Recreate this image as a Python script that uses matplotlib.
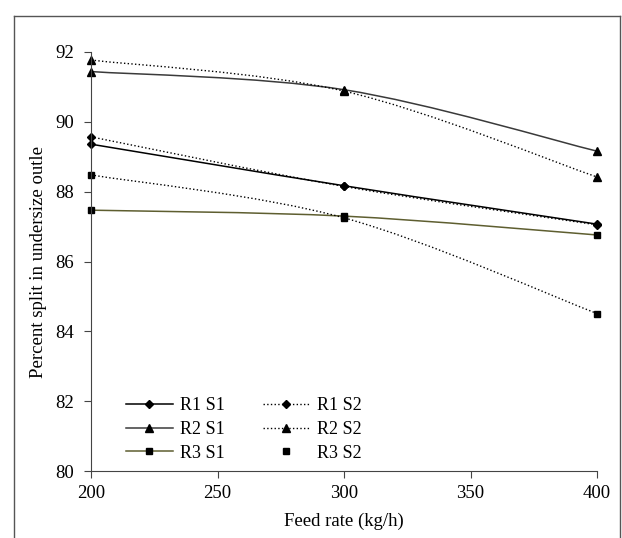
import numpy as np
import matplotlib.pyplot as plt
from matplotlib.path import Path
from matplotlib.patches import PathPatch
from matplotlib.lines import Line2D

plt.rcParams['font.family'] = ['Liberation Serif', 'DejaVu Serif']

feed = [200, 300, 400]
r1_s1 = [89.36, 88.17, 87.07]
r1_s2 = [89.57, 88.15, 87.05]
r2_s1 = [91.44, 90.92, 89.16]
r2_s2 = [91.77, 90.88, 88.42]
r3_s1 = [87.47, 87.30, 86.76]
r3_s2 = [88.48, 87.25, 84.51]
labels = ['R1 S1', 'R2 S1', 'R3 S1', 'R1 S2', 'R2 S2', 'R3 S2']


def smooth_path(x, y):
    # excel style smoothed line: cubic bezier segments
    pts = np.column_stack([x, y]).astype(float)
    n = len(pts)
    verts = [pts[0]]
    codes = [Path.MOVETO]
    for i in range(n - 1):
        p0 = pts[max(i - 1, 0)]
        p1 = pts[i]
        p2 = pts[i + 1]
        p3 = pts[min(i + 2, n - 1)]
        c1 = p1 + (p2 - p0) / 6.0
        c2 = p2 - (p3 - p1) / 6.0
        verts += [c1, c2, p2]
        codes += [Path.CURVE4] * 3
    return Path(verts, codes)


fig = plt.figure(figsize=(6.22, 5.38), dpi=100)
ax = fig.add_axes([91 / 622, 1 - 471 / 538, 506 / 622, 419 / 538])

# outer frame of the picture
fig.add_artist(Line2D([14 / 622, 14 / 622], [0, 1 - 16 / 538], transform=fig.transFigure, color='#555555', lw=1))
fig.add_artist(Line2D([620 / 622, 620 / 622], [0, 1 - 16 / 538], transform=fig.transFigure, color='#555555', lw=1))
fig.add_artist(Line2D([14 / 622, 620 / 622], [1 - 16 / 538, 1 - 16 / 538], transform=fig.transFigure, color='#555555', lw=1))

series = [
    (r1_s1, '-', 'D', 'black'),
    (r2_s1, '-', '^', '#3a3a3a'),
    (r3_s1, '-', 's', '#5e5e30'),
    (r1_s2, ':', 'D', 'black'),
    (r2_s2, ':', '^', 'black'),
    (r3_s2, ':', 's', 'black'),
]
msize = {'D': 4.5, '^': 5.5, 's': 5}

handles = []
for (vals, ls, mk, col), lab in zip(series, labels):
    patch = PathPatch(smooth_path(feed, vals), facecolor='none', edgecolor=col,
                      linestyle=ls, lw=1.1 if ls == '-' else 1.0)
    ax.add_patch(patch)
    ms = msize[mk]
    ax.plot(feed, vals, linestyle='none', marker=mk, color='black', markersize=ms, clip_on=False)
    if lab == 'R3 S2':
        h = Line2D([], [], linestyle='none', marker=mk, color='black', markersize=ms)
    else:
        h = Line2D([], [], linestyle=ls, color=col, marker=mk, markerfacecolor='black',
                   markeredgecolor='black', markersize=ms, lw=1.1 if ls == '-' else 1.0)
    handles.append(h)

ax.set_xlim(200, 400)
ax.set_ylim(80, 92)
ax.set_xticks([200, 250, 300, 350, 400])
ax.set_yticks([80, 82, 84, 86, 88, 90, 92])
ax.spines['top'].set_visible(False)
ax.spines['right'].set_visible(False)
for s in ['left', 'bottom']:
    ax.spines[s].set_color('#444444')
ax.tick_params(direction='out', length=5, color='#444444', labelsize=13.5)
ax.tick_params(axis='x', pad=5)
ax.tick_params(axis='y', pad=7)

ax.set_xlabel('Feed rate (kg/h)', fontsize=13.5, labelpad=8)
ax.set_ylabel('Percent split in undersize outle', fontsize=13.5, labelpad=6)

ax.legend(handles=handles, labels=labels, ncol=2, frameon=False, fontsize=13,
          loc='lower left', bbox_to_anchor=(0.069, 0.022), handlelength=2.6,
          handletextpad=0.4, columnspacing=2.1, labelspacing=0.38, borderpad=0,
          borderaxespad=0)

fig.savefig('out.png', dpi=100)
